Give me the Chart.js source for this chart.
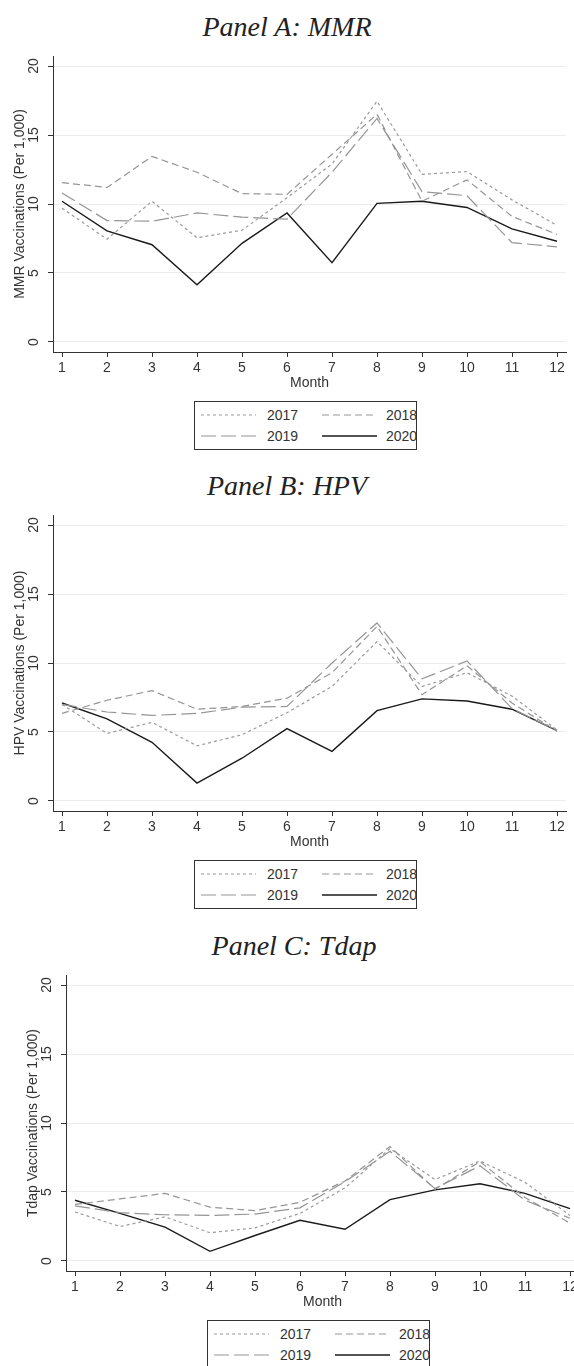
<!DOCTYPE html>
<html>
<head>
<meta charset="utf-8">
<script src="https://cdn.jsdelivr.net/npm/chart.js@4.4.1/dist/chart.umd.min.js"></script>
<style>
  html, body { margin: 0; padding: 0; background: #fff; }
  body { width: 574px; height: 1366px; overflow: hidden; position: relative; }
  .panel { position: absolute; left: 0; width: 574px; height: 460px; }
  .panel-title {
    position: absolute; left: 0; top: 10px; width: 574px; height: 34px; line-height: 34px;
    text-align: center; font-family: "Liberation Serif", "Times New Roman", serif;
    font-style: italic; font-size: 28px; color: #222;
  }
  .panel canvas { position: absolute; left: 0; top: 40px; }
  .legend {
    position: absolute; left: 194px; top: 401px; width: 223px; height: 49px;
    border: 1px solid #333; box-sizing: border-box; background: #fff;
  }
  .legend svg { display: block; }
</style>
</head>
<body>
<div class="panel" id="panel-a" style="top:0px;">
  <div class="panel-title">Panel A: MMR</div>
  <canvas id="chart-a" width="574" height="352"></canvas>
  <div class="legend"></div>
</div>
<div class="panel" id="panel-b" style="top:459px;">
  <div class="panel-title">Panel B: HPV</div>
  <canvas id="chart-b" width="574" height="352"></canvas>
  <div class="legend"></div>
</div>
<div class="panel" id="panel-c" style="top:919px; left:13px;">
  <div class="panel-title" style="left:-6px;">Panel C: Tdap</div>
  <canvas id="chart-c" width="574" height="352"></canvas>
  <div class="legend"></div>
</div>

<script>
// ---------- DATA ----------
const months = [1, 2, 3, 4, 5, 6, 7, 8, 9, 10, 11, 12];
const yTicks = [0, 5, 10, 15, 20];
const years = ["2017", "2018", "2019", "2020"];

// Panel A: MMR
const mmr2017 = [9.7, 7.45, 10.2, 7.55, 8.1, 10.45, 12.9, 17.45, 12.15, 12.35, 10.3, 8.45];
const mmr2018 = [11.55, 11.2, 13.45, 12.3, 10.75, 10.7, 13.6, 16.5, 10.2, 11.75, 9.1, 7.8];
const mmr2019 = [10.8, 8.8, 8.75, 9.35, 9.05, 8.9, 12.3, 16.2, 10.9, 10.6, 7.2, 6.9];
const mmr2020 = [10.2, 8.05, 7.05, 4.15, 7.15, 9.35, 5.75, 10.05, 10.2, 9.75, 8.2, 7.3];

// Panel B: HPV
const hpv2017 = [7.0, 4.9, 5.7, 4.0, 4.8, 6.4, 8.3, 11.55, 8.3, 9.3, 7.6, 5.15];
const hpv2018 = [6.35, 7.3, 8.0, 6.65, 6.85, 7.45, 9.3, 12.65, 7.7, 9.8, 7.1, 5.05];
const hpv2019 = [7.0, 6.45, 6.2, 6.35, 6.8, 6.85, 10.0, 12.9, 8.85, 10.15, 6.7, 5.1];
const hpv2020 = [7.1, 5.95, 4.25, 1.3, 3.1, 5.25, 3.6, 6.55, 7.4, 7.25, 6.65, 5.1];

// Panel C: Tdap
const tdap2017 = [3.55, 2.5, 3.2, 2.05, 2.4, 3.45, 5.3, 8.15, 5.9, 7.25, 5.7, 3.3];
const tdap2018 = [4.1, 4.5, 4.9, 3.9, 3.65, 4.25, 5.8, 8.3, 5.2, 7.2, 4.6, 2.75];
const tdap2019 = [4.0, 3.5, 3.35, 3.3, 3.4, 3.85, 5.75, 7.95, 5.25, 6.9, 4.4, 3.1];
const tdap2020 = [4.4, 3.45, 2.45, 0.7, 1.85, 2.95, 2.3, 4.45, 5.15, 5.6, 4.9, 3.8];

// ---------- STYLES ----------
const lineStyles = [
  { color: "#9a9a9a", width: 1.2, dash: [3, 3] },   // 2017
  { color: "#959595", width: 1.2, dash: [7, 4] },   // 2018
  { color: "#959595", width: 1.2, dash: [15, 5] },  // 2019
  { color: "#1a1a1a", width: 1.4, dash: [] },       // 2020
];
const FONT = '"Liberation Sans", Arial, sans-serif';
const TEXT = "#333";

// ---------- HELPER: rotated y labels + y title (Stata style) ----------
const stataYAxis = {
  id: "stataYAxis",
  afterDraw(chart, args, opts) {
    const { ctx, chartArea } = chart;
    const y = chart.scales.y;
    ctx.save();
    ctx.fillStyle = TEXT;
    ctx.font = "14px " + FONT;
    ctx.textAlign = "center";
    ctx.textBaseline = "middle";
    yTicks.forEach(v => {
      ctx.save();
      ctx.translate(chartArea.left - 19, y.getPixelForValue(v));
      ctx.rotate(-Math.PI / 2);
      ctx.fillText(String(v), 0, 0);
      ctx.restore();
    });
    ctx.translate(chartArea.left - 32.5, y.getPixelForValue(10));
    ctx.rotate(-Math.PI / 2);
    ctx.fillText(opts.title, 0, 0);
    ctx.restore();
  }
};

function toPoints(vals) {
  return months.map((m, i) => ({ x: m, y: vals[i] }));
}

function drawPanel(canvasId, yTitle, series) {
  const ctx = document.getElementById(canvasId);
  new Chart(ctx, {
    type: "line",
    data: {
      datasets: series.map((vals, i) => ({
        label: years[i],
        data: toPoints(vals),
        borderColor: lineStyles[i].color,
        borderWidth: lineStyles[i].width,
        borderDash: lineStyles[i].dash,
        pointRadius: 0,
        fill: false,
        tension: 0,
      })),
    },
    options: {
      responsive: false,
      animation: false,
      layout: { padding: { top: 16, right: 8, bottom: 0, left: 0 } },
      plugins: {
        legend: { display: false },
        tooltip: { enabled: false },
        stataYAxis: { title: yTitle },
      },
      scales: {
        x: {
          type: "linear",
          min: 0.8,
          max: 12.2,
          afterBuildTicks: s => { s.ticks = months.map(v => ({ value: v })); },
          afterFit: s => { s.height = 40; },
          grid: { drawOnChartArea: false, drawTicks: true, tickLength: 5, tickColor: "#333", tickWidth: 1 },
          border: { display: true, color: "#333", width: 1 },
          ticks: { color: TEXT, font: { family: FONT, size: 14 }, padding: 3, maxRotation: 0 },
          title: { display: true, text: "Month", color: TEXT, font: { family: FONT, size: 14 }, padding: 0 },
        },
        y: {
          min: -0.725,
          max: 20.725,
          afterBuildTicks: s => { s.ticks = yTicks.map(v => ({ value: v })); },
          afterFit: s => { s.width = 53; },
          grid: { color: "#ececec", lineWidth: 1, drawTicks: true, tickLength: 5, tickColor: "#333", tickWidth: 1 },
          border: { display: true, color: "#333", width: 1 },
          ticks: { display: false },
        },
      },
    },
    plugins: [stataYAxis],
  });
}

// ---------- LEGEND ----------
function buildLegend(box) {
  const cols = [
    { lx: 6, tx: 72 },
    { lx: 127, tx: 191 },
  ];
  const rows = [13, 34];
  let svg = '<svg width="221" height="47" xmlns="http://www.w3.org/2000/svg">';
  years.forEach((yr, i) => {
    const c = cols[i % 2];
    const r = rows[Math.floor(i / 2)];
    const st = lineStyles[i];
    svg += `<line x1="${c.lx}" y1="${r}" x2="${c.lx + 55}" y2="${r}" stroke="${st.color}" stroke-width="${st.width}"` +
      (st.dash.length ? ` stroke-dasharray="${st.dash.join(",")}"` : "") + "/>";
    svg += `<text x="${c.tx}" y="${r + 5}" font-family='${FONT}' font-size="14" fill="${TEXT}">${yr}</text>`;
  });
  svg += "</svg>";
  box.innerHTML = svg;
}

// ---------- INIT ----------
drawPanel("chart-a", "MMR Vaccinations (Per 1,000)", [mmr2017, mmr2018, mmr2019, mmr2020]);
drawPanel("chart-b", "HPV Vaccinations (Per 1,000)", [hpv2017, hpv2018, hpv2019, hpv2020]);
drawPanel("chart-c", "Tdap Vaccinations (Per 1,000)", [tdap2017, tdap2018, tdap2019, tdap2020]);
document.querySelectorAll(".legend").forEach(buildLegend);
</script>
</body>
</html>
